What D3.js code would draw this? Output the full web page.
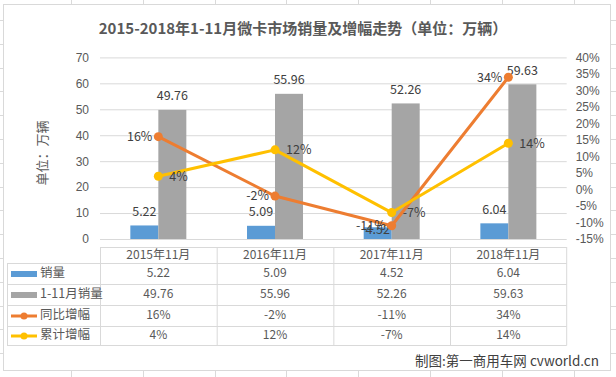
<!DOCTYPE html>
<html>
<head>
<meta charset="utf-8">
<script src="https://cdn.jsdelivr.net/npm/d3@7"></script>
<style>
  body { margin: 0; background: #fff; }
  svg { display: block; font-family: "Noto Sans CJK SC", "Noto Sans", sans-serif; }
</style>
</head>
<body>
<svg id="chart" width="616" height="377"></svg>
<script>
// 微卡市场销量及增幅
const categories = ["2015年11月", "2016年11月", "2017年11月", "2018年11月"];
const sales = [5.22, 5.09, 4.52, 6.04];          // 销量 (万辆)
const ytdSales = [49.76, 55.96, 52.26, 59.63];   // 1-11月销量
const yoyGrowth = [16, -2, -11, 34];             // 同比增幅 %
const cumGrowth = [4, 12, -7, 14];               // 累计增幅 %
const leftTicks = [0, 10, 20, 30, 40, 50, 60, 70];
const rightTicks = [-15, -10, -5, 0, 5, 10, 15, 20, 25, 30, 35, 40];

const svg = d3.select("#chart");
const W = 616, H = 377;
const grid = "#d9d9d9", txt = "#595959";
const blue = "#5b9bd5", gray = "#a5a5a5", orange = "#ed7d31", yellow = "#ffc000";

// excel sheet cells behind the chart
const sheet = svg.append("g").attr("stroke", "#dadada").attr("stroke-width", 1);
d3.range(20, H, 23.8).forEach(y => sheet.append("line")
  .attr("x1", 0).attr("x2", W).attr("y1", Math.round(y) + 0.5).attr("y2", Math.round(y) + 0.5));
d3.range(71, W, 71.8).forEach(x => sheet.append("line")
  .attr("y1", 0).attr("y2", H).attr("x1", Math.round(x) + 0.5).attr("x2", Math.round(x) + 0.5));

// chart area
svg.append("rect")
  .attr("x", 3.5).attr("y", 4.5).attr("width", 607).attr("height", 366)
  .attr("fill", "#fff").attr("stroke", grid);

svg.append("text")
  .attr("x", 303).attr("y", 30)
  .attr("text-anchor", "middle").attr("dominant-baseline", "middle")
  .attr("font-size", 15).attr("font-weight", "bold").attr("fill", txt)
  .text("2015-2018年1-11月微卡市场销量及增幅走势（单位：万辆）");

const x = d3.scaleBand().domain(categories).range([100, 566.7]);
const xInner = d3.scaleBand().domain(["sales", "ytd"]).range([-28, 28]);
const yL = d3.scaleLinear().domain([0, 70]).range([239, 57.4]);
const yR = d3.scaleLinear().domain([-15, 40]).range([239, 57.4]);
const cx = c => x(c) + x.bandwidth() / 2;

// gridlines + left axis
const gl = svg.append("g").attr("transform", "translate(100,0)")
  .call(d3.axisLeft(yL).tickValues(leftTicks).tickSize(-466.7).tickPadding(11));
gl.select(".domain").remove();
gl.selectAll(".tick line").attr("stroke", grid);
gl.selectAll(".tick text").attr("fill", txt).attr("font-size", 12);

const gr = svg.append("g").attr("transform", "translate(566.7,0)")
  .call(d3.axisRight(yR).tickValues(rightTicks).tickSize(0).tickPadding(9)
    .tickFormat(d => d + "%"));
gr.select(".domain").remove();
gr.selectAll(".tick text").attr("fill", txt).attr("font-size", 12);

svg.append("text")
  .attr("transform", "translate(43,153) rotate(-90)")
  .attr("text-anchor", "middle").attr("dominant-baseline", "middle")
  .attr("font-size", 13).attr("fill", txt)
  .text("单位：万辆");

// bars
const barSeries = [
  { key: "sales", values: sales, color: blue },
  { key: "ytd", values: ytdSales, color: gray }
];
barSeries.forEach(s => {
  svg.append("g").selectAll("rect")
    .data(s.values)
    .join("rect")
    .attr("x", (d, i) => cx(categories[i]) + xInner(s.key))
    .attr("width", xInner.bandwidth())
    .attr("y", d => yL(d))
    .attr("height", d => yL(0) - yL(d))
    .attr("fill", s.color);
  svg.append("g").selectAll("text")
    .data(s.values)
    .join("text")
    .attr("x", (d, i) => cx(categories[i]) + xInner(s.key) + xInner.bandwidth() / 2)
    // the 2017 sales label is pushed down by the line label in the original
    .attr("y", (d, i) => s.key === "sales" && i === 2 ? 231 : yL(d) - 13)
    .attr("text-anchor", "middle").attr("dominant-baseline", "middle")
    .attr("font-size", 12.5).attr("fill", "#404040")
    .text(d => d.toFixed(2));
});

// lines
const lineSeries = [
  { values: yoyGrowth, color: orange, side: "left" },
  { values: cumGrowth, color: yellow, side: "right" }
];
lineSeries.forEach(s => {
  const line = d3.line().x((d, i) => cx(categories[i])).y(d => yR(d));
  svg.append("path")
    .attr("d", line(s.values))
    .attr("fill", "none").attr("stroke", s.color)
    .attr("stroke-width", 3).attr("stroke-linejoin", "round");
  svg.append("g").selectAll("circle")
    .data(s.values)
    .join("circle")
    .attr("cx", (d, i) => cx(categories[i]))
    .attr("cy", d => yR(d))
    .attr("r", 4.5).attr("fill", s.color);
  svg.append("g").selectAll("text")
    .data(s.values)
    .join("text")
    .attr("x", (d, i) => cx(categories[i]) + (s.side === "left" ? -6 : 11))
    .attr("y", d => yR(d) + 1)
    .attr("text-anchor", s.side === "left" ? "end" : "start")
    .attr("dominant-baseline", "middle")
    .attr("font-size", 12.5).attr("fill", "#404040")
    .text(d => d + "%");
});

// data table
const rowsTop = [247, 263, 284, 305, 326, 345];
const table = svg.append("g").attr("stroke", grid).attr("fill", "none");
table.append("line").attr("x1", 100).attr("x2", 566.7).attr("y1", 247.5).attr("y2", 247.5);
rowsTop.slice(1).forEach(y => table.append("line")
  .attr("x1", 7).attr("x2", 566.7).attr("y1", y + 0.5).attr("y2", y + 0.5));
table.append("line").attr("x1", 7.5).attr("x2", 7.5).attr("y1", 263).attr("y2", 345.5);
categories.forEach(c => table.append("line")
  .attr("x1", x(c) + 0.5).attr("x2", x(c) + 0.5).attr("y1", 247).attr("y2", 345.5));
table.append("line").attr("x1", 566.7).attr("x2", 566.7).attr("y1", 247).attr("y2", 345.5);

svg.append("g").selectAll("text")
  .data(categories)
  .join("text")
  .attr("x", d => cx(d)).attr("y", 256)
  .attr("text-anchor", "middle").attr("dominant-baseline", "middle")
  .attr("font-size", 12).attr("fill", txt)
  .text(d => d);

const tableRows = [
  { name: "销量", values: sales, color: blue, type: "bar", fmt: d => d.toFixed(2) },
  { name: "1-11月销量", values: ytdSales, color: gray, type: "bar", fmt: d => d.toFixed(2) },
  { name: "同比增幅", values: yoyGrowth, color: orange, type: "line", fmt: d => d + "%" },
  { name: "累计增幅", values: cumGrowth, color: yellow, type: "line", fmt: d => d + "%" }
];
tableRows.forEach((r, ri) => {
  const yc = (rowsTop[ri + 1] + rowsTop[ri + 2]) / 2 + 0.5;
  const g = svg.append("g");
  if (r.type === "bar") {
    g.append("rect").attr("x", 11).attr("y", yc - 3).attr("width", 26).attr("height", 6).attr("fill", r.color);
  } else {
    g.append("line").attr("x1", 11).attr("x2", 37).attr("y1", yc).attr("y2", yc)
      .attr("stroke", r.color).attr("stroke-width", 3);
    g.append("circle").attr("cx", 24).attr("cy", yc).attr("r", 3.5).attr("fill", r.color);
  }
  g.append("text").attr("x", 40).attr("y", yc)
    .attr("dominant-baseline", "middle").attr("font-size", 12.5).attr("fill", txt)
    .text(r.name);
  g.selectAll("text.v")
    .data(r.values)
    .join("text").attr("class", "v")
    .attr("x", (d, i) => cx(categories[i])).attr("y", yc)
    .attr("text-anchor", "middle").attr("dominant-baseline", "middle")
    .attr("font-size", 12).attr("fill", txt)
    .text(r.fmt);
});

svg.append("text")
  .attr("x", 599).attr("y", 362)
  .attr("text-anchor", "end").attr("dominant-baseline", "middle")
  .attr("font-size", 13.5).attr("fill", "#404040")
  .text("制图:第一商用车网 cvworld.cn");
</script>
</body>
</html>
